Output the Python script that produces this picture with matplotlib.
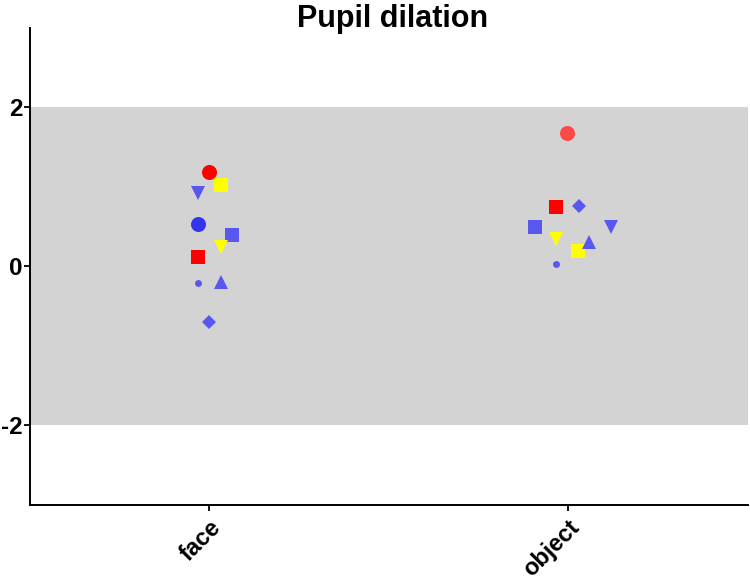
import numpy as np
import matplotlib
matplotlib.use("Agg")
import matplotlib.pyplot as plt
from matplotlib.transforms import ScaledTranslation

plt.rcParams['font.family'] = ['Liberation Sans', 'DejaVu Sans']

categories = ["face", "object"]

# per-subject marker style
markers = ['o', 's', 'v', 'o', 's', 'v', 's', 'o', '^', 'D']
colors_face = ['#ff0000', '#ffff00', '#5858f0', '#3535ee', '#5858f0',
               '#ffff00', '#ff0000', '#5858f0', '#5858f0', '#5858f0']
colors_object = ['#ff4848', '#ffff00', '#5858f0', '#3535ee', '#5858f0',
                 '#ffff00', '#ff0000', '#5858f0', '#5858f0', '#5858f0']
sizes = [10.8, 10.5, 10.0, 10.8, 10.5, 10.0, 10.5, 5.0, 10.0, 7.6]

face_values = [1.19, 1.03, 0.93, 0.53, 0.40, 0.24, 0.12, -0.21, -0.20, -0.70]
object_values = [1.68, 0.20, 0.50, np.nan, 0.50, 0.35, 0.75, 0.03, 0.31, 0.76]

# horizontal jitter (beeswarm spread, category units)
face_jitter = [0.0, 0.031, -0.031, -0.031, 0.062, 0.031, -0.031, -0.031, 0.031, 0.0]
object_jitter = [-0.003, 0.027, 0.12, 0.0, -0.094, -0.033, -0.034, -0.033, 0.058, 0.03]

fig = plt.figure(figsize=(7.5, 5.82), dpi=100)
ax = fig.add_axes([0.04, 0.1323, 0.957, 0.8197])

ax.axhspan(-2, 2, color='#d3d3d3', zorder=0, lw=0)

for ci, (vals, jit, cols) in enumerate([(face_values, face_jitter, colors_face),
                                        (object_values, object_jitter, colors_object)]):
    for v, j, c, m, s in zip(vals, jit, cols, markers, sizes):
        if np.isnan(v):
            continue
        ax.plot(ci + j, v, marker=m, color=c, markersize=s, linestyle='none',
                markeredgewidth=0, zorder=3)

ax.set_xlim(-0.5, 1.5)
ax.set_ylim(-3, 3)
ax.set_yticks([-2, 0, 2])
ax.set_yticklabels(['-2', '0', '2'], fontsize=17.5, fontweight='bold')
ax.set_xticks([0, 1])
ax.set_xticklabels(categories, fontsize=17, fontweight='bold', rotation=45,
                   ha='right', rotation_mode='anchor')
shift = ScaledTranslation(-4 / 100, 0, fig.dpi_scale_trans)
for lbl in ax.get_xticklabels():
    lbl.set_transform(lbl.get_transform() + shift)

for side in ['top', 'right']:
    ax.spines[side].set_visible(False)
for side in ['left', 'bottom']:
    ax.spines[side].set_linewidth(1.4)
ax.tick_params(axis='y', direction='out', length=4, width=1.3, pad=1.5)
ax.tick_params(axis='x', direction='out', length=4, width=1.3, pad=4)

fig.text(0.523, 0.993, "Pupil dilation", ha='center', va='top', fontsize=22,
         fontweight='bold')

fig.savefig("out.png", dpi=100)
